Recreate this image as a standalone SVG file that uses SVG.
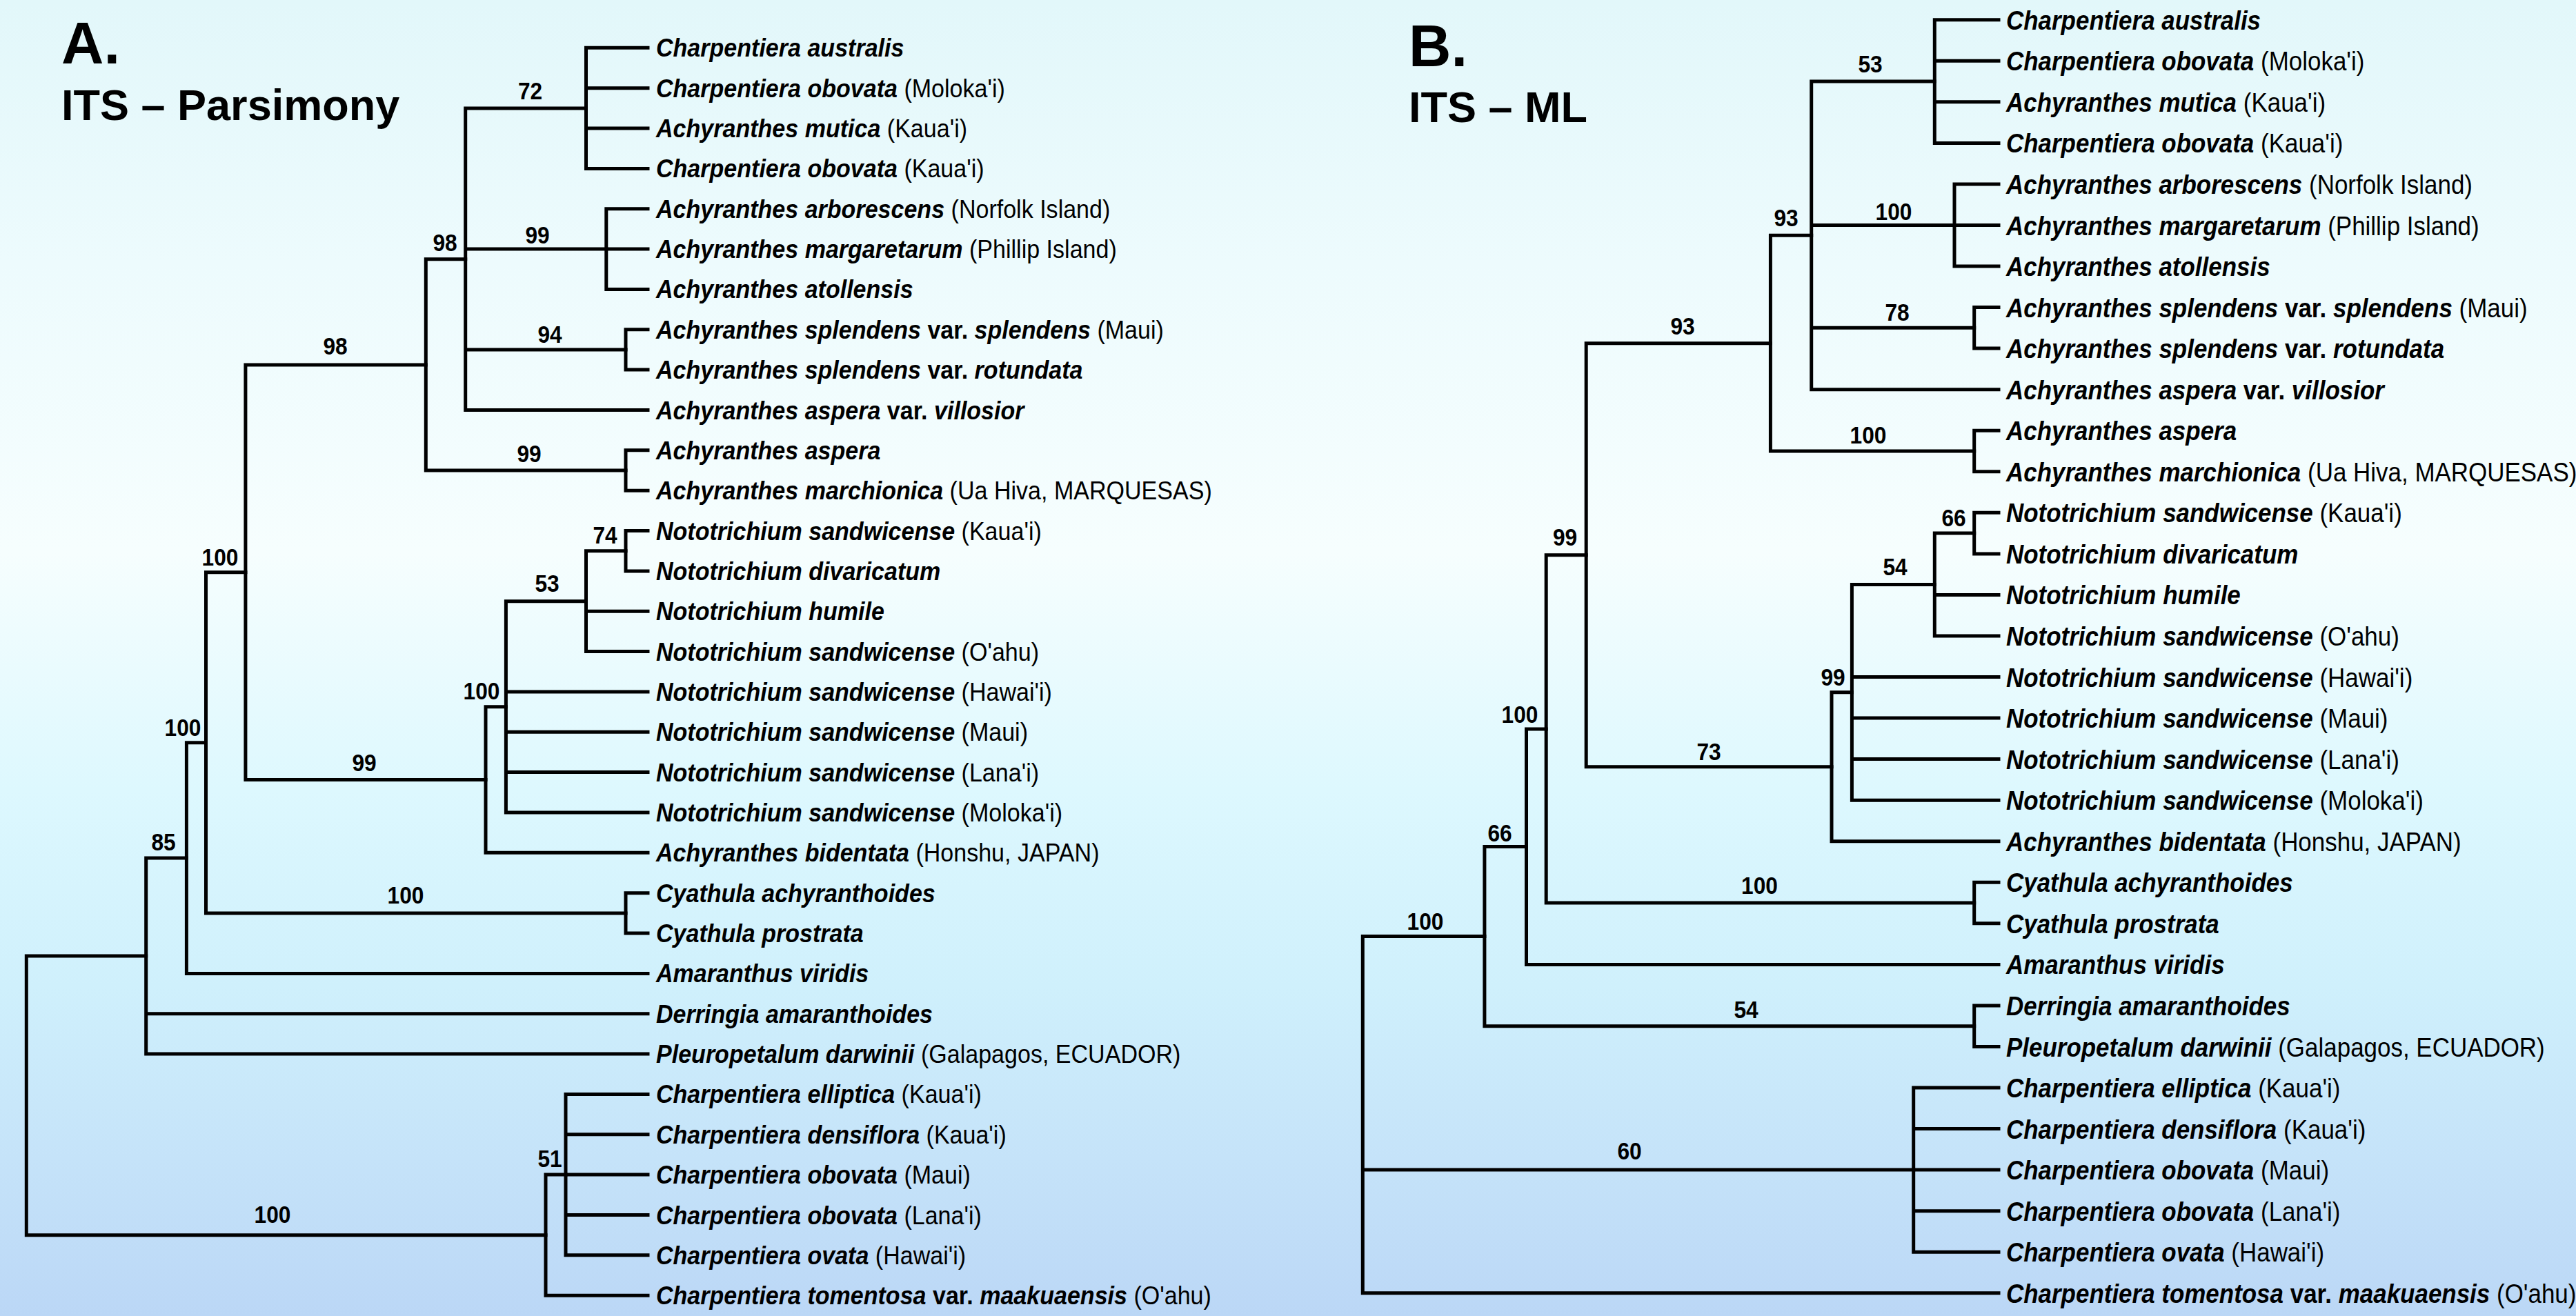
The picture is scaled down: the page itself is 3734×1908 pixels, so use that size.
<svg xmlns="http://www.w3.org/2000/svg" width="3734" height="1908" viewBox="0 0 3734 1908">
<defs>
<linearGradient id="bg" x1="0" y1="0" x2="0" y2="1">
<stop offset="0" stop-color="#E2F7FA"/>
<stop offset="0.2" stop-color="#EDFBFD"/>
<stop offset="0.42" stop-color="#F6FEFE"/>
<stop offset="0.6" stop-color="#DDF8FE"/>
<stop offset="0.75" stop-color="#CFF0FC"/>
<stop offset="0.88" stop-color="#C5E3F9"/>
<stop offset="1" stop-color="#BBD7F6"/>
</linearGradient>
<style>
.br{fill:none;stroke:#000;stroke-width:5;stroke-linecap:square}
.t{font-family:"Liberation Sans",Arial,Helvetica,sans-serif;fill:#000}
.sa{font-size:37px}
.sb{font-size:38px}
.i{font-weight:bold;font-style:italic}
.b{font-weight:bold;font-style:normal}
.r{font-weight:normal;font-style:normal}
.bs{font-family:"Liberation Sans",Arial,Helvetica,sans-serif;font-weight:bold;font-size:36px;text-anchor:middle;fill:#000}
.ttl{font-family:"Liberation Sans",Arial,Helvetica,sans-serif;font-weight:bold;fill:#000}
</style>
</defs>
<rect x="0" y="0" width="3734" height="1908" fill="url(#bg)"/>

<g id="titles">
<text class="ttl" x="89" y="92" font-size="85">A.</text>
<text class="ttl" x="89" y="174" font-size="63">ITS – Parsimony</text>
<text class="ttl" x="2042" y="96" font-size="85">B.</text>
<text class="ttl" x="2042" y="177" font-size="63">ITS – ML</text>
</g>

<g id="connectors">
<g id="a-branches" class="br">
<path d="M38.3,1386.1V1790.7M38.3,1386.1H211.7M38.3,1790.7H791"/>
<path d="M211.7,1244.1V1528.1M211.7,1244.1H270.4M211.7,1469.7H939M211.7,1528.1H939"/>
<path d="M270.4,1076.8V1411.4M270.4,1076.8H298.5M270.4,1411.4H939"/>
<path d="M298.5,829.7V1323.9M298.5,829.7H355.9M298.5,1323.9H907"/>
<path d="M355.9,528.9V1130.6M355.9,528.9H617.3M355.9,1130.6H704"/>
<path d="M617.3,375.7V682M617.3,375.7H674.7M617.3,682H907"/>
<path d="M674.7,156.9V594.5M674.7,156.9H849.5M674.7,361.1H878.8M674.7,507H907M674.7,594.5H939"/>
<path d="M849.5,69.3V244.4M849.5,69.3H939M849.5,127.7H939M849.5,186H939M849.5,244.4H939"/>
<path d="M878.8,302.7V419.4M878.8,302.7H939M878.8,361.1H939M878.8,419.4H939"/>
<path d="M907,477.8V536.1M907,477.8H939M907,536.1H939"/>
<path d="M907,652.8V711.2M907,652.8H939M907,711.2H939"/>
<path d="M704,1024.8V1236.3M704,1024.8H733.4M704,1236.3H939"/>
<path d="M733.4,871.7V1178M733.4,871.7H849.5M733.4,1002.9H939M733.4,1061.3H939M733.4,1119.6H939M733.4,1178H939"/>
<path d="M849.5,798.7V944.6M849.5,798.7H907M849.5,886.2H939M849.5,944.6H939"/>
<path d="M907,769.5V827.9M907,769.5H939M907,827.9H939"/>
<path d="M907,1294.7V1353M907,1294.7H939M907,1353H939"/>
<path d="M791,1703.1V1878.2M791,1703.1H820M791,1878.2H939"/>
<path d="M820,1586.4V1819.8M820,1586.4H939M820,1644.8H939M820,1703.1H939M820,1761.5H939M820,1819.8H939"/>
</g>
<g id="b-branches" class="br">
<path d="M1975.3,1357.6V1874.8M1975.3,1357.6H2151.9M1975.3,1696.1H2773.7M1975.3,1874.8H2897"/>
<path d="M2151.9,1227.6V1487.7M2151.9,1227.6H2212.5M2151.9,1487.7H2861.7"/>
<path d="M2212.5,1056.9V1398.4M2212.5,1056.9H2241.2M2212.5,1398.4H2897"/>
<path d="M2241.2,804.7V1309M2241.2,804.7H2299.2M2241.2,1309H2861.7"/>
<path d="M2299.2,497.7V1111.8M2299.2,497.7H2566.4M2299.2,1111.8H2655"/>
<path d="M2566.4,341.3V654M2566.4,341.3H2625.7M2566.4,654H2861.7"/>
<path d="M2625.7,118V564.7M2625.7,118H2804.3M2625.7,326.5H2833M2625.7,475.3H2861.7M2625.7,564.7H2897"/>
<path d="M2804.3,28.7V207.4M2804.3,28.7H2897M2804.3,88.3H2897M2804.3,147.8H2897M2804.3,207.4H2897"/>
<path d="M2833,266.9V386M2833,266.9H2897M2833,326.5H2897M2833,386H2897"/>
<path d="M2861.7,445.6V505.1M2861.7,445.6H2897M2861.7,505.1H2897"/>
<path d="M2861.7,624.2V683.8M2861.7,624.2H2897M2861.7,683.8H2897"/>
<path d="M2655,1003.8V1219.7M2655,1003.8H2684.4M2655,1219.7H2897"/>
<path d="M2684.4,847.6V1160.2M2684.4,847.6H2804.3M2684.4,981.5H2897M2684.4,1041.1H2897M2684.4,1100.6H2897M2684.4,1160.2H2897"/>
<path d="M2804.3,773.1V922M2804.3,773.1H2861.7M2804.3,862.4H2897M2804.3,922H2897"/>
<path d="M2861.7,743.3V802.9M2861.7,743.3H2897M2861.7,802.9H2897"/>
<path d="M2861.7,1279.3V1338.8M2861.7,1279.3H2897M2861.7,1338.8H2897"/>
<path d="M2861.7,1457.9V1517.5M2861.7,1457.9H2897M2861.7,1517.5H2897"/>
<path d="M2773.7,1577V1815.2M2773.7,1577H2897M2773.7,1636.6H2897M2773.7,1696.1H2897M2773.7,1755.7H2897M2773.7,1815.2H2897"/>
</g>
</g>

<g id="a-support">
<g id="a-s72"><text class="bs" transform="translate(768.5,144) scale(.88,1)">72</text></g>
<g id="a-s99a"><text class="bs" transform="translate(779,353) scale(.88,1)">99</text></g>
<g id="a-s98i"><text class="bs" transform="translate(645,364) scale(.88,1)">98</text></g>
<g id="a-s94"><text class="bs" transform="translate(797,497) scale(.88,1)">94</text></g>
<g id="a-s98o"><text class="bs" transform="translate(486,514) scale(.88,1)">98</text></g>
<g id="a-s99b"><text class="bs" transform="translate(767,670) scale(.88,1)">99</text></g>
<g id="a-s100a"><text class="bs" transform="translate(319,820) scale(.88,1)">100</text></g>
<g id="a-s74"><text class="bs" transform="translate(877,788) scale(.88,1)">74</text></g>
<g id="a-s53"><text class="bs" transform="translate(793,858) scale(.88,1)">53</text></g>
<g id="a-s100b"><text class="bs" transform="translate(698,1014) scale(.88,1)">100</text></g>
<g id="a-s99c"><text class="bs" transform="translate(528,1118) scale(.88,1)">99</text></g>
<g id="a-s100c"><text class="bs" transform="translate(265,1067) scale(.88,1)">100</text></g>
<g id="a-s85"><text class="bs" transform="translate(237,1233) scale(.88,1)">85</text></g>
<g id="a-s100d"><text class="bs" transform="translate(588,1310) scale(.88,1)">100</text></g>
<g id="a-s51"><text class="bs" transform="translate(797,1692) scale(.88,1)">51</text></g>
<g id="a-s100e"><text class="bs" transform="translate(395,1773) scale(.88,1)">100</text></g>
</g>

<g id="b-support">
<g id="b-s53"><text class="bs" transform="translate(2711,105) scale(.88,1)">53</text></g>
<g id="b-s93i"><text class="bs" transform="translate(2589,328) scale(.88,1)">93</text></g>
<g id="b-s100a"><text class="bs" transform="translate(2745,319) scale(.88,1)">100</text></g>
<g id="b-s78"><text class="bs" transform="translate(2750,465) scale(.88,1)">78</text></g>
<g id="b-s93o"><text class="bs" transform="translate(2439,485) scale(.88,1)">93</text></g>
<g id="b-s100b"><text class="bs" transform="translate(2708,643) scale(.88,1)">100</text></g>
<g id="b-s99a"><text class="bs" transform="translate(2268.6,791) scale(.88,1)">99</text></g>
<g id="b-s66a"><text class="bs" transform="translate(2832,763) scale(.88,1)">66</text></g>
<g id="b-s54a"><text class="bs" transform="translate(2747,834) scale(.88,1)">54</text></g>
<g id="b-s99b"><text class="bs" transform="translate(2657,994) scale(.88,1)">99</text></g>
<g id="b-s73"><text class="bs" transform="translate(2477,1102) scale(.88,1)">73</text></g>
<g id="b-s100c"><text class="bs" transform="translate(2203,1048) scale(.88,1)">100</text></g>
<g id="b-s100d"><text class="bs" transform="translate(2550.5,1296) scale(.88,1)">100</text></g>
<g id="b-s66b"><text class="bs" transform="translate(2174,1220) scale(.88,1)">66</text></g>
<g id="b-s54b"><text class="bs" transform="translate(2531,1476) scale(.88,1)">54</text></g>
<g id="b-s100e"><text class="bs" transform="translate(2066,1348) scale(.88,1)">100</text></g>
<g id="b-s60"><text class="bs" transform="translate(2362,1681) scale(.88,1)">60</text></g>
</g>

<g id="a-leaves">
<g id="a-l01"><text class="t sa" transform="translate(951,82.3) scale(.92,1)"><tspan class="i">Charpentiera australis</tspan></text></g>
<g id="a-l02"><text class="t sa" transform="translate(951,140.7) scale(.92,1)"><tspan class="i">Charpentiera obovata</tspan> <tspan class="r">(Moloka'i)</tspan></text></g>
<g id="a-l03"><text class="t sa" transform="translate(951,199) scale(.92,1)"><tspan class="i">Achyranthes mutica</tspan> <tspan class="r">(Kaua'i)</tspan></text></g>
<g id="a-l04"><text class="t sa" transform="translate(951,257.4) scale(.92,1)"><tspan class="i">Charpentiera obovata</tspan> <tspan class="r">(Kaua'i)</tspan></text></g>
<g id="a-l05"><text class="t sa" transform="translate(951,315.7) scale(.92,1)"><tspan class="i">Achyranthes arborescens</tspan> <tspan class="r">(Norfolk Island)</tspan></text></g>
<g id="a-l06"><text class="t sa" transform="translate(951,374.1) scale(.92,1)"><tspan class="i">Achyranthes margaretarum</tspan> <tspan class="r">(Phillip Island)</tspan></text></g>
<g id="a-l07"><text class="t sa" transform="translate(951,432.4) scale(.92,1)"><tspan class="i">Achyranthes atollensis</tspan></text></g>
<g id="a-l08"><text class="t sa" transform="translate(951,490.8) scale(.92,1)"><tspan class="i">Achyranthes splendens</tspan> <tspan class="b">var.</tspan> <tspan class="i">splendens</tspan> <tspan class="r">(Maui)</tspan></text></g>
<g id="a-l09"><text class="t sa" transform="translate(951,549.1) scale(.92,1)"><tspan class="i">Achyranthes splendens</tspan> <tspan class="b">var.</tspan> <tspan class="i">rotundata</tspan></text></g>
<g id="a-l10"><text class="t sa" transform="translate(951,607.5) scale(.92,1)"><tspan class="i">Achyranthes aspera</tspan> <tspan class="b">var.</tspan> <tspan class="i">villosior</tspan></text></g>
<g id="a-l11"><text class="t sa" transform="translate(951,665.8) scale(.92,1)"><tspan class="i">Achyranthes aspera</tspan></text></g>
<g id="a-l12"><text class="t sa" transform="translate(951,724.2) scale(.92,1)"><tspan class="i">Achyranthes marchionica</tspan> <tspan class="r">(Ua Hiva, MARQUESAS)</tspan></text></g>
<g id="a-l13"><text class="t sa" transform="translate(951,782.5) scale(.92,1)"><tspan class="i">Nototrichium sandwicense</tspan> <tspan class="r">(Kaua'i)</tspan></text></g>
<g id="a-l14"><text class="t sa" transform="translate(951,840.9) scale(.92,1)"><tspan class="i">Nototrichium divaricatum</tspan></text></g>
<g id="a-l15"><text class="t sa" transform="translate(951,899.2) scale(.92,1)"><tspan class="i">Nototrichium humile</tspan></text></g>
<g id="a-l16"><text class="t sa" transform="translate(951,957.6) scale(.92,1)"><tspan class="i">Nototrichium sandwicense</tspan> <tspan class="r">(O'ahu)</tspan></text></g>
<g id="a-l17"><text class="t sa" transform="translate(951,1015.9) scale(.92,1)"><tspan class="i">Nototrichium sandwicense</tspan> <tspan class="r">(Hawai'i)</tspan></text></g>
<g id="a-l18"><text class="t sa" transform="translate(951,1074.3) scale(.92,1)"><tspan class="i">Nototrichium sandwicense</tspan> <tspan class="r">(Maui)</tspan></text></g>
<g id="a-l19"><text class="t sa" transform="translate(951,1132.6) scale(.92,1)"><tspan class="i">Nototrichium sandwicense</tspan> <tspan class="r">(Lana'i)</tspan></text></g>
<g id="a-l20"><text class="t sa" transform="translate(951,1191) scale(.92,1)"><tspan class="i">Nototrichium sandwicense</tspan> <tspan class="r">(Moloka'i)</tspan></text></g>
<g id="a-l21"><text class="t sa" transform="translate(951,1249.3) scale(.92,1)"><tspan class="i">Achyranthes bidentata</tspan> <tspan class="r">(Honshu, JAPAN)</tspan></text></g>
<g id="a-l22"><text class="t sa" transform="translate(951,1307.7) scale(.92,1)"><tspan class="i">Cyathula achyranthoides</tspan></text></g>
<g id="a-l23"><text class="t sa" transform="translate(951,1366) scale(.92,1)"><tspan class="i">Cyathula prostrata</tspan></text></g>
<g id="a-l24"><text class="t sa" transform="translate(951,1424.4) scale(.92,1)"><tspan class="i">Amaranthus viridis</tspan></text></g>
<g id="a-l25"><text class="t sa" transform="translate(951,1482.7) scale(.92,1)"><tspan class="i">Derringia amaranthoides</tspan></text></g>
<g id="a-l26"><text class="t sa" transform="translate(951,1541.1) scale(.92,1)"><tspan class="i">Pleuropetalum darwinii</tspan> <tspan class="r">(Galapagos, ECUADOR)</tspan></text></g>
<g id="a-l27"><text class="t sa" transform="translate(951,1599.4) scale(.92,1)"><tspan class="i">Charpentiera elliptica</tspan> <tspan class="r">(Kaua'i)</tspan></text></g>
<g id="a-l28"><text class="t sa" transform="translate(951,1657.8) scale(.92,1)"><tspan class="i">Charpentiera densiflora</tspan> <tspan class="r">(Kaua'i)</tspan></text></g>
<g id="a-l29"><text class="t sa" transform="translate(951,1716.1) scale(.92,1)"><tspan class="i">Charpentiera obovata</tspan> <tspan class="r">(Maui)</tspan></text></g>
<g id="a-l30"><text class="t sa" transform="translate(951,1774.5) scale(.92,1)"><tspan class="i">Charpentiera obovata</tspan> <tspan class="r">(Lana'i)</tspan></text></g>
<g id="a-l31"><text class="t sa" transform="translate(951,1832.8) scale(.92,1)"><tspan class="i">Charpentiera ovata</tspan> <tspan class="r">(Hawai'i)</tspan></text></g>
<g id="a-l32"><text class="t sa" transform="translate(951,1891.2) scale(.92,1)"><tspan class="i">Charpentiera tomentosa</tspan> <tspan class="b">var.</tspan> <tspan class="i">maakuaensis</tspan> <tspan class="r">(O'ahu)</tspan></text></g>
</g>

<g id="b-leaves">
<g id="b-l01"><text class="t sb" transform="translate(2908,42.7) scale(.92,1)"><tspan class="i">Charpentiera australis</tspan></text></g>
<g id="b-l02"><text class="t sb" transform="translate(2908,102.3) scale(.92,1)"><tspan class="i">Charpentiera obovata</tspan> <tspan class="r">(Moloka'i)</tspan></text></g>
<g id="b-l03"><text class="t sb" transform="translate(2908,161.8) scale(.92,1)"><tspan class="i">Achyranthes mutica</tspan> <tspan class="r">(Kaua'i)</tspan></text></g>
<g id="b-l04"><text class="t sb" transform="translate(2908,221.4) scale(.92,1)"><tspan class="i">Charpentiera obovata</tspan> <tspan class="r">(Kaua'i)</tspan></text></g>
<g id="b-l05"><text class="t sb" transform="translate(2908,280.9) scale(.92,1)"><tspan class="i">Achyranthes arborescens</tspan> <tspan class="r">(Norfolk Island)</tspan></text></g>
<g id="b-l06"><text class="t sb" transform="translate(2908,340.5) scale(.92,1)"><tspan class="i">Achyranthes margaretarum</tspan> <tspan class="r">(Phillip Island)</tspan></text></g>
<g id="b-l07"><text class="t sb" transform="translate(2908,400) scale(.92,1)"><tspan class="i">Achyranthes atollensis</tspan></text></g>
<g id="b-l08"><text class="t sb" transform="translate(2908,459.6) scale(.92,1)"><tspan class="i">Achyranthes splendens</tspan> <tspan class="b">var.</tspan> <tspan class="i">splendens</tspan> <tspan class="r">(Maui)</tspan></text></g>
<g id="b-l09"><text class="t sb" transform="translate(2908,519.1) scale(.92,1)"><tspan class="i">Achyranthes splendens</tspan> <tspan class="b">var.</tspan> <tspan class="i">rotundata</tspan></text></g>
<g id="b-l10"><text class="t sb" transform="translate(2908,578.7) scale(.92,1)"><tspan class="i">Achyranthes aspera</tspan> <tspan class="b">var.</tspan> <tspan class="i">villosior</tspan></text></g>
<g id="b-l11"><text class="t sb" transform="translate(2908,638.2) scale(.92,1)"><tspan class="i">Achyranthes aspera</tspan></text></g>
<g id="b-l12"><text class="t sb" transform="translate(2908,697.8) scale(.92,1)"><tspan class="i">Achyranthes marchionica</tspan> <tspan class="r">(Ua Hiva, MARQUESAS)</tspan></text></g>
<g id="b-l13"><text class="t sb" transform="translate(2908,757.3) scale(.92,1)"><tspan class="i">Nototrichium sandwicense</tspan> <tspan class="r">(Kaua'i)</tspan></text></g>
<g id="b-l14"><text class="t sb" transform="translate(2908,816.9) scale(.92,1)"><tspan class="i">Nototrichium divaricatum</tspan></text></g>
<g id="b-l15"><text class="t sb" transform="translate(2908,876.4) scale(.92,1)"><tspan class="i">Nototrichium humile</tspan></text></g>
<g id="b-l16"><text class="t sb" transform="translate(2908,936) scale(.92,1)"><tspan class="i">Nototrichium sandwicense</tspan> <tspan class="r">(O'ahu)</tspan></text></g>
<g id="b-l17"><text class="t sb" transform="translate(2908,995.5) scale(.92,1)"><tspan class="i">Nototrichium sandwicense</tspan> <tspan class="r">(Hawai'i)</tspan></text></g>
<g id="b-l18"><text class="t sb" transform="translate(2908,1055.1) scale(.92,1)"><tspan class="i">Nototrichium sandwicense</tspan> <tspan class="r">(Maui)</tspan></text></g>
<g id="b-l19"><text class="t sb" transform="translate(2908,1114.6) scale(.92,1)"><tspan class="i">Nototrichium sandwicense</tspan> <tspan class="r">(Lana'i)</tspan></text></g>
<g id="b-l20"><text class="t sb" transform="translate(2908,1174.2) scale(.92,1)"><tspan class="i">Nototrichium sandwicense</tspan> <tspan class="r">(Moloka'i)</tspan></text></g>
<g id="b-l21"><text class="t sb" transform="translate(2908,1233.7) scale(.92,1)"><tspan class="i">Achyranthes bidentata</tspan> <tspan class="r">(Honshu, JAPAN)</tspan></text></g>
<g id="b-l22"><text class="t sb" transform="translate(2908,1293.3) scale(.92,1)"><tspan class="i">Cyathula achyranthoides</tspan></text></g>
<g id="b-l23"><text class="t sb" transform="translate(2908,1352.8) scale(.92,1)"><tspan class="i">Cyathula prostrata</tspan></text></g>
<g id="b-l24"><text class="t sb" transform="translate(2908,1412.4) scale(.92,1)"><tspan class="i">Amaranthus viridis</tspan></text></g>
<g id="b-l25"><text class="t sb" transform="translate(2908,1471.9) scale(.92,1)"><tspan class="i">Derringia amaranthoides</tspan></text></g>
<g id="b-l26"><text class="t sb" transform="translate(2908,1531.5) scale(.92,1)"><tspan class="i">Pleuropetalum darwinii</tspan> <tspan class="r">(Galapagos, ECUADOR)</tspan></text></g>
<g id="b-l27"><text class="t sb" transform="translate(2908,1591) scale(.92,1)"><tspan class="i">Charpentiera elliptica</tspan> <tspan class="r">(Kaua'i)</tspan></text></g>
<g id="b-l28"><text class="t sb" transform="translate(2908,1650.6) scale(.92,1)"><tspan class="i">Charpentiera densiflora</tspan> <tspan class="r">(Kaua'i)</tspan></text></g>
<g id="b-l29"><text class="t sb" transform="translate(2908,1710.1) scale(.92,1)"><tspan class="i">Charpentiera obovata</tspan> <tspan class="r">(Maui)</tspan></text></g>
<g id="b-l30"><text class="t sb" transform="translate(2908,1769.7) scale(.92,1)"><tspan class="i">Charpentiera obovata</tspan> <tspan class="r">(Lana'i)</tspan></text></g>
<g id="b-l31"><text class="t sb" transform="translate(2908,1829.2) scale(.92,1)"><tspan class="i">Charpentiera ovata</tspan> <tspan class="r">(Hawai'i)</tspan></text></g>
<g id="b-l32"><text class="t sb" transform="translate(2908,1888.8) scale(.92,1)"><tspan class="i">Charpentiera tomentosa</tspan> <tspan class="b">var.</tspan> <tspan class="i">maakuaensis</tspan> <tspan class="r">(O'ahu)</tspan></text></g>
</g>
</svg>
